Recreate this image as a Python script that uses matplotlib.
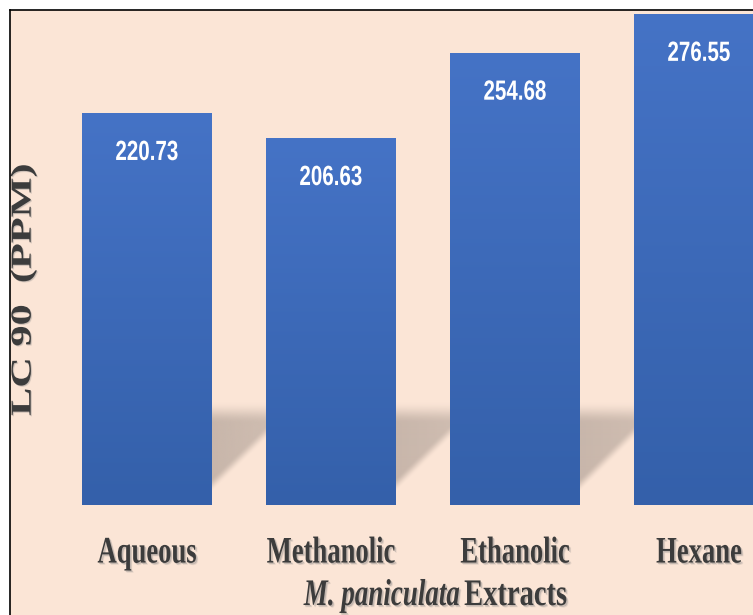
import numpy as np
import matplotlib
matplotlib.use("Agg")
import matplotlib.pyplot as plt
from matplotlib.patheffects import AbstractPathEffect
from matplotlib.transforms import Affine2D
from matplotlib.colors import to_rgba
from matplotlib.lines import Line2D
from matplotlib.patches import Rectangle

# ---- data ----
categories = ["Aqueous", "Methanolic", "Ethanolic", "Hexane"]
lc90 = [220.73, 206.63, 254.68, 276.55]
value_labels = ["220.73", "206.63", "254.68", "276.55"]
ylabel = "LC 90  (PPM)"
xlabel_italic = "M. paniculata"
xlabel_normal = "Extracts"

BG = "#FBE5D6"
BAR_TOP = "#4573C6"
BAR_BOT = "#3460AA"
TXT = "#3C3C3C"


class Condense(AbstractPathEffect):
    """Draw text horizontally scaled (condensed font look), optional soft shadow."""

    def __init__(self, sx, anchor="center", shadow=None):
        super().__init__()
        self.sx = sx
        self.anchor = anchor
        self.shadow = shadow

    def draw_path(self, renderer, gc, tpath, affine, rgbFace=None):
        ext = tpath.get_extents()
        if self.anchor == "left":
            cx = ext.x0
        elif self.anchor == "right":
            cx = ext.x1
        else:
            cx = 0.5 * (ext.x0 + ext.x1)
        new = Affine2D().translate(-cx, 0).scale(self.sx, 1).translate(cx, 0) + affine
        if self.shadow is not None:
            dx, dy, col, a = self.shadow
            for k, f in ((1.0, 1.0), (1.6, 0.5)):
                gc0 = renderer.new_gc()
                gc0.copy_properties(gc)
                gc0.set_alpha(a * f)
                off = new + Affine2D().translate(renderer.points_to_pixels(dx * k),
                                                 -renderer.points_to_pixels(dy * k))
                renderer.draw_path(gc0, tpath, off, to_rgba(col))
                gc0.restore()
        renderer.draw_path(gc, tpath, new, rgbFace)


W, H = 753, 615
fig = plt.figure(figsize=(W / 100, H / 100), dpi=100, facecolor=BG)

# white margin and frame (as in the screenshot)
fig.patches.append(Rectangle((0, 1 - 10 / H), 1, 10 / H, transform=fig.transFigure,
                             facecolor="white", edgecolor="none", zorder=0))
fig.patches.append(Rectangle((0, 0), 10 / W, 1, transform=fig.transFigure,
                             facecolor="white", edgecolor="none", zorder=0))

base_px = 505          # baseline position (px from top)
top_px = 10
left_px = 10
px_per_x = 184.0
px_per_y = 1.776

ax = fig.add_axes([left_px / W, (H - base_px) / H, (W - left_px) / W, (base_px - top_px) / H])
ax.set_facecolor("none")
for s in ax.spines.values():
    s.set_visible(False)

x = np.arange(len(categories))
bw = 130 / px_per_x
bars = ax.bar(x, lc90, width=bw, color=BAR_BOT, zorder=3, linewidth=0)

# gradient fill of bars
grad = np.linspace(0, 1, 256).reshape(-1, 1)
c_top = np.array(to_rgba(BAR_TOP))
c_bot = np.array(to_rgba(BAR_BOT))
gimg = (c_bot[None, None, :] * (1 - grad[:, :, None]) + c_top[None, None, :] * grad[:, :, None])
for b in bars:
    im = ax.imshow(gimg, extent=(b.get_x(), b.get_x() + b.get_width(), 0, b.get_height()),
                   origin="lower", aspect="auto", zorder=4, interpolation="bilinear")
    im.set_clip_path(b)

# soft floor shadows behind bars (in the gaps)
shadow_rgb = np.array(to_rgba("#BFAEA3"))[:3]
def smooth(t):
    t = np.clip(t, 0, 1)
    return t * t * (3 - 2 * t)

for b in bars:
    xr = b.get_x() + b.get_width()
    gx_px = np.linspace(0, 75, 150)
    gy_px = np.linspace(0, 130, 260)
    GX, GY = np.meshgrid(gx_px, gy_px)
    top_edge = 103.0
    low_edge = 13.0 + GX * 0.97
    a = smooth((top_edge - GY) / 22.0) * smooth((GY - low_edge) / 14.0)
    a *= 0.85 - 0.15 * (GX / 75.0)
    img = np.zeros(GX.shape + (4,))
    img[..., :3] = shadow_rgb
    img[..., 3] = np.clip(a, 0, 1)
    ax.imshow(img, extent=(xr, xr + 75 / px_per_x, 0, 130 / px_per_y), origin="lower",
              aspect="auto", zorder=1, interpolation="bilinear")

# value labels inside bars
for xi, v, lab in zip(x, lc90, value_labels):
    t = ax.annotate(lab, (xi, v), xytext=(0, -40 * 0.72), textcoords="offset points",
                    ha="center", va="center", color="white", fontsize=20,
                    fontfamily="Liberation Sans", fontweight="bold", zorder=6)
    t.set_path_effects([Condense(0.74)])

ax.set_xlim(-(147 - left_px) / px_per_x, (W - 147) / px_per_x)
ax.set_ylim(0, (base_px - top_px) / px_per_y)
ax.set_yticks([])

# category tick labels
ax.set_xticks(x, categories)
ax.tick_params(axis="x", length=0, pad=22)
tick_shadow = (1.0, 1.0, "#808080", 0.35)
for lab in ax.get_xticklabels():
    lab.set_fontfamily("Liberation Serif")
    lab.set_fontweight("bold")
    lab.set_fontsize(27)
    lab.set_color(TXT)
    lab.set_path_effects([Condense(0.71, shadow=tick_shadow)])

# x-axis title: italic species + Extracts
yb = -(605 - base_px) / px_per_y
xa = (460 - 147) / px_per_x
xb = (464 - 147) / px_per_x
t1 = ax.text(xa, yb, xlabel_italic, ha="right", va="baseline", fontsize=27,
             fontfamily="Liberation Serif", fontstyle="italic", fontweight="bold",
             color=TXT, clip_on=False)
t1.set_path_effects([Condense(0.72, anchor="right", shadow=tick_shadow)])
t2 = ax.text(xb, yb, xlabel_normal, ha="left", va="baseline", fontsize=27,
             fontfamily="Liberation Serif", fontweight="bold", color=TXT, clip_on=False)
t2.set_path_effects([Condense(0.76, anchor="left", shadow=tick_shadow)])

# y label
ax.set_ylabel(ylabel, fontfamily="Liberation Serif", fontweight="bold", fontsize=21, color=TXT)
ax.yaxis.set_label_coords((37 - left_px) / (W - left_px), (base_px - 290) / (base_px - top_px))
ax.yaxis.label.set_path_effects([Condense(1.45, shadow=(0.6, 0.6, "#808080", 0.3))])

# frame lines
fig.add_artist(Line2D([left_px / W, left_px / W], [0, 1 - top_px / H], color="black",
                      lw=1.2, transform=fig.transFigure))
fig.add_artist(Line2D([left_px / W, 1], [1 - top_px / H, 1 - top_px / H], color="black",
                      lw=1.2, transform=fig.transFigure))

fig.savefig("out.png", dpi=100, facecolor=fig.get_facecolor())
